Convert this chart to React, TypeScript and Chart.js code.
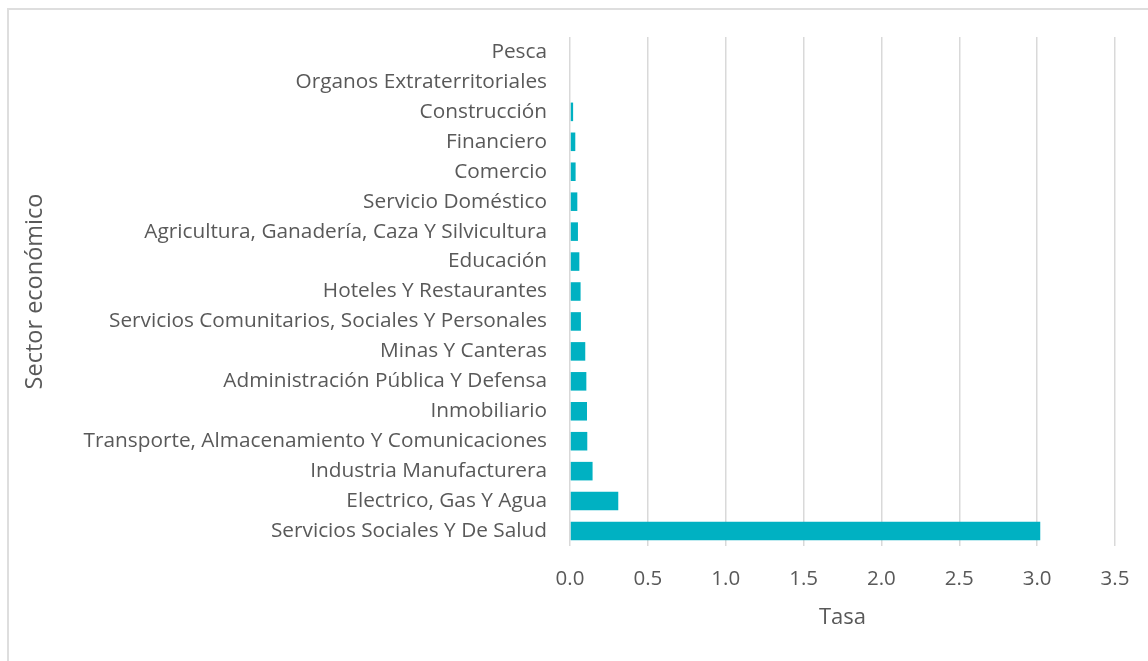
import React, { useEffect, useRef } from "react";
import { Chart, registerables } from "chart.js";

Chart.register(...registerables);

const sectors: string[] = [
  "Pesca",
  "Organos Extraterritoriales",
  "Construcción",
  "Financiero",
  "Comercio",
  "Servicio Doméstico",
  "Agricultura, Ganadería, Caza Y Silvicultura",
  "Educación",
  "Hoteles Y Restaurantes",
  "Servicios Comunitarios, Sociales Y Personales",
  "Minas Y Canteras",
  "Administración Pública Y Defensa",
  "Inmobiliario",
  "Transporte, Almacenamiento Y Comunicaciones",
  "Industria Manufacturera",
  "Electrico, Gas Y Agua",
  "Servicios Sociales Y De Salud",
];

const tasa: number[] = [
  0, 0, 0.02, 0.034, 0.036, 0.047, 0.051, 0.06, 0.068, 0.07, 0.098, 0.105,
  0.109, 0.111, 0.145, 0.31, 3.02,
];

const xTicks: number[] = [0, 0.5, 1, 1.5, 2, 2.5, 3, 3.5];

const FONT = "'Open Sans', sans-serif";
const TEXT = "#595959";

export default function App() {
  const ref = useRef<HTMLCanvasElement | null>(null);

  useEffect(() => {
    if (!ref.current) return;
    const chart = new Chart(ref.current, {
      type: "bar",
      data: {
        labels: sectors,
        datasets: [
          {
            label: "Tasa",
            data: tasa,
            backgroundColor: "#00B1C2",
            borderWidth: 0,
            barPercentage: 0.62,
            categoryPercentage: 1,
          },
        ],
      },
      options: {
        indexAxis: "y",
        animation: false,
        responsive: false,
        maintainAspectRatio: false,
        layout: { autoPadding: false, padding: { top: 27, right: 33, bottom: 0, left: 0 } },
        plugins: {
          legend: { display: false },
          tooltip: { enabled: false },
        },
        scales: {
          x: {
            type: "linear",
            min: 0,
            max: 3.5,
            afterBuildTicks: (scale: any) => {
              scale.ticks = xTicks.map((v) => ({ value: v }));
            },
            afterFit: (scale: any) => {
              scale.height = 115;
              scale.paddingLeft = 0;
              scale.paddingRight = 0;
            },
            grid: {
              color: "#d9d9d9",
              lineWidth: 1.5,
              drawTicks: false,
            },
            border: { display: false },
            ticks: {
              padding: 21,
              color: TEXT,
              font: { family: FONT, size: 20.5 },
              callback: (v: any) => Number(v).toFixed(1),
            },
            title: {
              display: true,
              text: "Tasa",
              color: TEXT,
              font: { family: FONT, size: 22 },
              padding: { top: 0, bottom: 30 },
            },
          },
          y: {
            type: "category",
            afterFit: (scale: any) => {
              scale.width = 561;
              scale.paddingTop = 0;
              scale.paddingBottom = 0;
            },
            grid: { display: false, drawTicks: false },
            border: { display: false },
            ticks: {
              padding: 23,
              color: TEXT,
              font: { family: FONT, size: 20.8 },
            },
            title: {
              display: true,
              text: "Sector económico",
              color: TEXT,
              font: { family: FONT, size: 23.5 },
              padding: { top: 12, bottom: 0 },
            },
          },
        },
      },
    });
    return () => chart.destroy();
  }, []);

  return (
    <div
      style={{
        position: "absolute",
        left: 7,
        top: 8,
        width: 1141,
        height: 653,
        borderTop: "2px solid #dedede",
        borderLeft: "2px solid #dedede",
        boxSizing: "border-box",
        overflow: "hidden",
        background: "#fff",
      }}
    >
      <canvas ref={ref} width={1139} height={651} style={{ display: "block" }} />
    </div>
  );
}
